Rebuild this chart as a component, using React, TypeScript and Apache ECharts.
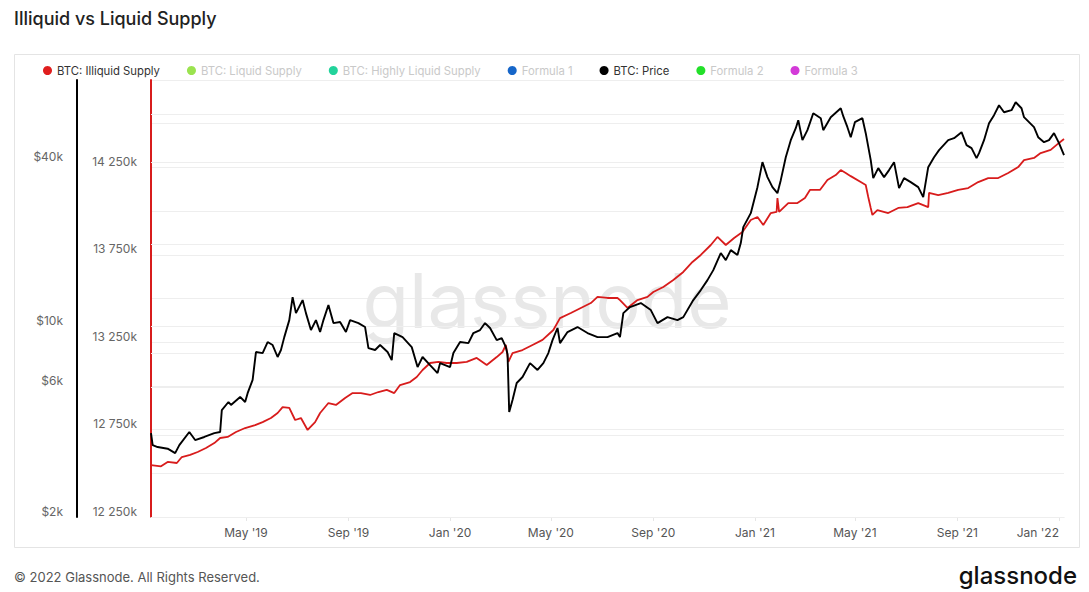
import React, { useEffect, useRef } from 'react';
import * as echarts from 'echarts';

const supplyDates = [
  '2019-01-07', '2019-01-19', '2019-01-27', '2019-02-07', '2019-02-13', '2019-02-23', '2019-03-04', '2019-03-14',
  '2019-03-24', '2019-03-31', '2019-04-09', '2019-04-19', '2019-04-30', '2019-05-12', '2019-05-21', '2019-05-31',
  '2019-06-08', '2019-06-14', '2019-06-22', '2019-06-29', '2019-07-06', '2019-07-14', '2019-07-23', '2019-07-29',
  '2019-08-08', '2019-08-17', '2019-08-28', '2019-09-06', '2019-09-16', '2019-09-27', '2019-10-07', '2019-10-17',
  '2019-10-26', '2019-11-02', '2019-11-14', '2019-11-22', '2019-11-29', '2019-12-08', '2019-12-18', '2019-12-28',
  '2020-01-09', '2020-01-21', '2020-02-02', '2020-02-14', '2020-02-26', '2020-03-04', '2020-03-08', '2020-03-11',
  '2020-03-16', '2020-03-28', '2020-04-09', '2020-04-21', '2020-05-04', '2020-05-12', '2020-05-25', '2020-06-06',
  '2020-06-18', '2020-06-26', '2020-07-08', '2020-07-20', '2020-07-23', '2020-08-01', '2020-08-13', '2020-08-25',
  '2020-09-01', '2020-09-13', '2020-09-25', '2020-10-07', '2020-10-18', '2020-10-28', '2020-11-09', '2020-11-17',
  '2020-11-27', '2020-12-07', '2020-12-17', '2020-12-27', '2021-01-04', '2021-01-11', '2021-01-20', '2021-01-27',
  '2021-01-28', '2021-01-30', '2021-02-10', '2021-02-21', '2021-03-02', '2021-03-08', '2021-03-20', '2021-03-29',
  '2021-04-08', '2021-04-14', '2021-04-20', '2021-04-26', '2021-05-08', '2021-05-14', '2021-05-17', '2021-05-20',
  '2021-05-22', '2021-05-28', '2021-06-10', '2021-06-22', '2021-07-03', '2021-07-16', '2021-07-28', '2021-07-29',
  '2021-08-09', '2021-08-21', '2021-09-02', '2021-09-14', '2021-09-26', '2021-10-08', '2021-10-20', '2021-11-01',
  '2021-11-13', '2021-11-20', '2021-12-02', '2021-12-10', '2021-12-22', '2022-01-01', '2022-01-07',
];
// BTC: Illiquid Supply, in thousands of BTC
const supplyValues = [
  12547, 12540, 12565, 12559, 12593, 12605, 12622, 12645,
  12673, 12702, 12708, 12736, 12759, 12776, 12793, 12816,
  12845, 12879, 12874, 12805, 12816, 12748, 12793, 12845,
  12902, 12891, 12931, 12959, 12959, 12948, 12965, 12977,
  12959, 13005, 13022, 13051, 13091, 13131, 13137, 13131,
  13131, 13137, 13160, 13120, 13165, 13194, 13234, 13137,
  13188, 13205, 13234, 13263, 13320, 13388, 13417, 13446,
  13474, 13509, 13503, 13503, 13491, 13446, 13491, 13509,
  13537, 13566, 13606, 13652, 13709, 13749, 13806, 13852,
  13806, 13846, 13880, 13949, 13966, 13920, 13989, 13995,
  14075, 13995, 14046, 14046, 14075, 14121, 14121, 14178,
  14206, 14235, 14218, 14200, 14166, 14149, 14081, 14018,
  13978, 14006, 13989, 14018, 14023, 14046, 14023, 14104,
  14092, 14104, 14121, 14132, 14166, 14189, 14189, 14218,
  14252, 14292, 14304, 14332, 14350, 14390, 14412,
];

const priceDates = [
  '2019-01-07', '2019-01-09', '2019-01-15', '2019-01-27', '2019-02-05', '2019-02-10', '2019-02-22', '2019-03-01',
  '2019-03-12', '2019-03-24', '2019-03-31', '2019-04-02', '2019-04-10', '2019-04-13', '2019-04-24', '2019-04-30',
  '2019-05-03', '2019-05-09', '2019-05-13', '2019-05-21', '2019-05-27', '2019-06-02', '2019-06-08', '2019-06-12',
  '2019-06-16', '2019-06-22', '2019-06-26', '2019-06-30', '2019-07-08', '2019-07-12', '2019-07-18', '2019-07-24',
  '2019-07-29', '2019-08-02', '2019-08-08', '2019-08-14', '2019-08-22', '2019-08-29', '2019-09-03', '2019-09-13',
  '2019-09-21', '2019-09-25', '2019-10-03', '2019-10-09', '2019-10-18', '2019-10-23', '2019-10-26', '2019-11-05',
  '2019-11-16', '2019-11-23', '2019-11-29', '2019-12-08', '2019-12-17', '2019-12-20', '2020-01-01', '2020-01-05',
  '2020-01-13', '2020-01-23', '2020-01-29', '2020-02-06', '2020-02-12', '2020-02-18', '2020-02-26', '2020-03-03',
  '2020-03-08', '2020-03-10', '2020-03-12', '2020-03-16', '2020-03-21', '2020-03-28', '2020-04-06', '2020-04-15',
  '2020-04-22', '2020-04-28', '2020-05-03', '2020-05-09', '2020-05-12', '2020-05-21', '2020-06-02', '2020-06-14',
  '2020-06-26', '2020-07-08', '2020-07-20', '2020-07-23', '2020-07-27', '2020-08-04', '2020-08-17', '2020-08-29',
  '2020-09-06', '2020-09-18', '2020-09-30', '2020-10-07', '2020-10-19', '2020-10-28', '2020-11-05', '2020-11-12',
  '2020-11-21', '2020-11-27', '2020-12-03', '2020-12-11', '2020-12-15', '2020-12-18', '2020-12-27', '2021-01-04',
  '2021-01-10', '2021-01-16', '2021-01-22', '2021-01-28', '2021-02-01', '2021-02-07', '2021-02-13', '2021-02-19',
  '2021-02-22', '2021-02-27', '2021-03-05', '2021-03-12', '2021-03-21', '2021-03-24', '2021-04-02', '2021-04-14',
  '2021-04-17', '2021-04-22', '2021-04-26', '2021-05-01', '2021-05-10', '2021-05-14', '2021-05-20', '2021-05-23',
  '2021-05-29', '2021-06-05', '2021-06-11', '2021-06-17', '2021-06-23', '2021-06-29', '2021-07-07', '2021-07-16',
  '2021-07-22', '2021-07-28', '2021-08-04', '2021-08-10', '2021-08-21', '2021-08-28', '2021-09-06', '2021-09-12',
  '2021-09-18', '2021-09-24', '2021-09-27', '2021-10-03', '2021-10-09', '2021-10-15', '2021-10-21', '2021-10-27',
  '2021-11-05', '2021-11-10', '2021-11-17', '2021-11-20', '2021-11-26', '2021-12-02', '2021-12-07', '2021-12-14',
  '2021-12-20', '2021-12-26', '2022-01-01', '2022-01-07',
];
// BTC: Price, USD
const priceValues = [
  4060, 3670, 3610, 3560, 3430, 3670, 4100, 3830,
  3930, 4060, 4100, 4930, 5280, 5150, 5510, 5280,
  5690, 6360, 8050, 7980, 8760, 8540, 7720, 8190,
  9130, 10540, 12800, 11180, 12480, 11180, 9690, 10540,
  9530, 10540, 11970, 10280, 10370, 9530, 10540, 10280,
  9940, 8320, 8190, 8540, 8050, 7520, 9450, 9130,
  8390, 7090, 7720, 7210, 6740, 7330, 7090, 7980,
  8760, 8680, 9450, 9690, 10280, 9860, 8900, 9060,
  8390, 7900, 4850, 5370, 6200, 6520, 7330, 6920,
  7330, 7980, 8900, 9860, 8680, 9530, 9940, 9450,
  9130, 9130, 9450, 9130, 11180, 11770, 12170, 11470,
  10280, 10810, 10540, 10810, 12480, 13580, 14770, 16070,
  18560, 17490, 19030, 18250, 20190, 23100, 26000, 32380,
  39980, 35240, 32380, 30780, 34350, 41700, 48140, 53270,
  56990, 48140, 52380, 60440, 57960, 52380, 58450, 63040,
  58940, 53720, 49370, 56040, 57960, 51070, 40660, 34940,
  38020, 35240, 37390, 39980, 32100, 34940, 33780, 32380,
  29760, 38330, 41700, 44260, 48140, 48960, 51500, 46150,
  45000, 41370, 43140, 48140, 55570, 59450, 64660, 60950,
  62000, 66320, 63040, 58450, 56040, 53720, 49370, 47330,
  48140, 51070, 46930, 42420,
];

const xStart = '2019-01-07';
const xEnd = '2022-01-07';
const xTickDates = [
  '2019-05-01', '2019-09-01', '2020-01-01', '2020-05-01', '2020-09-01',
  '2021-01-01', '2021-05-01', '2021-09-01', '2022-01-01',
];
const priceGridValues = [2000, 4000, 6000, 8000, 10000, 20000, 40000, 60000];
const priceLabelValues = [2000, 6000, 10000, 40000];

const legendNames = [
  'BTC: Illiquid Supply', 'BTC: Liquid Supply', 'BTC: Highly Liquid Supply', 'Formula 1',
  'BTC: Price', 'Formula 2', 'Formula 3',
];
const legendColors = ['#e01e1e', '#9be34f', '#22d39b', '#1666c9', '#000000', '#23e02a', '#d33ad8'];
const inactiveNames = ['BTC: Liquid Supply', 'BTC: Highly Liquid Supply', 'Formula 1', 'Formula 2', 'Formula 3'];

const MONTHS = ['Jan', 'Feb', 'Mar', 'Apr', 'May', 'Jun', 'Jul', 'Aug', 'Sep', 'Oct', 'Nov', 'Dec'];
const FONT = 'Inter, "Noto Sans", sans-serif';

function ts(s: string): number {
  const [y, m, d] = s.split('-').map(Number);
  return new Date(y, m - 1, d).getTime();
}

function fmtSupply(v: number): string {
  const th = Math.floor(v / 1000);
  const rest = String(Math.round(v % 1000)).padStart(3, '0');
  return th + ' ' + rest + 'k';
}

export default function App() {
  const ref = useRef<HTMLDivElement>(null);
  useEffect(() => {
    if (!ref.current) return;
    document.body.style.margin = '0';
    const chart = echarts.init(ref.current, null, { renderer: 'svg' });
    const supplyData = supplyDates.map((d, i) => [ts(d), supplyValues[i]]);
    const priceData = priceDates.map((d, i) => [ts(d), priceValues[i]]);
    const xTicks = xTickDates.map(ts);

    const series: any[] = legendNames.map((name, i) => {
      const base: any = {
        name,
        type: 'line',
        showSymbol: false,
        symbol: 'none',
        itemStyle: { color: legendColors[i] },
        lineStyle: { color: legendColors[i], width: 1.8 },
        yAxisIndex: 0,
        data: [],
        z: 2,
      };
      if (name === 'BTC: Illiquid Supply') {
        base.data = supplyData;
        base.lineStyle = { color: '#d81c1c', width: 1.8 };
      }
      if (name === 'BTC: Price') {
        base.data = priceData;
        base.yAxisIndex = 1;
        base.z = 3;
        base.lineStyle = { color: '#000', width: 1.9 };
        base.markLine = {
          silent: true,
          symbol: 'none',
          z: 1,
          lineStyle: { color: '#eeeeee', width: 1, type: 'solid' },
          label: { show: false },
          emphasis: { disabled: true },
          data: priceGridValues.map((v) => ({
            yAxis: v,
            label: priceLabelValues.includes(v)
              ? {
                  show: true,
                  position: 'start',
                  distance: [88, 0],
                  formatter: '$' + v / 1000 + 'k',
                  color: '#666',
                  fontSize: 12,
                  fontFamily: FONT,
                  verticalAlign: 'bottom',
                }
              : { show: false },
          })),
        };
      }
      return base;
    });

    chart.setOption({
      animation: false,
      backgroundColor: '#ffffff',
      textStyle: { fontFamily: FONT },
      title: {
        text: 'Illiquid vs Liquid Supply',
        left: 9,
        top: 4,
        textStyle: { fontSize: 18, fontWeight: 500, color: '#222', fontFamily: FONT },
      },
      legend: {
        left: 38,
        top: 60,
        icon: 'circle',
        itemWidth: 9,
        itemHeight: 9,
        itemGap: 27,
        selectedMode: false,
        textStyle: { fontSize: 11.3, color: '#333', fontFamily: FONT },
        data: legendNames.map((n) => ({
          name: n,
          textStyle: { color: inactiveNames.includes(n) ? '#c9c9c9' : '#333' },
        })),
      },
      grid: { left: 151, right: 25, top: 80, bottom: 75 },
      xAxis: {
        type: 'value',
        min: ts(xStart),
        max: ts(xEnd),
        axisLine: { show: true, lineStyle: { color: '#e6e6e6', width: 1 } },
        axisTick: { show: true, customValues: xTicks, length: 4, lineStyle: { color: '#e6e6e6' } },
        splitLine: { show: false },
        axisLabel: {
          customValues: xTicks,
          color: '#555',
          fontSize: 12,
          margin: 9,
          alignMaxLabel: 'right',
          formatter: (val: number) => {
            const d = new Date(val);
            return MONTHS[d.getMonth()] + " '" + String(d.getFullYear()).slice(2);
          },
        },
      },
      yAxis: [
        {
          type: 'value',
          position: 'left',
          min: 12250,
          max: 14750,
          interval: 250,
          axisLine: { show: true, lineStyle: { color: '#d81c1c', width: 2 } },
          axisTick: { show: false },
          splitLine: { show: true, lineStyle: { color: '#eeeeee', width: 1 } },
          axisLabel: {
            color: '#666',
            fontSize: 12,
            margin: 14,
            verticalAlign: 'bottom',
            formatter: (v: number) => ((v - 12250) % 500 === 0 && v < 14750 ? fmtSupply(v) : ''),
          },
        },
        {
          type: 'log',
          logBase: 10,
          position: 'left',
          offset: 74,
          min: 2000,
          max: 80000,
          axisLine: { show: true, lineStyle: { color: '#000', width: 2 } },
          axisTick: { show: false },
          splitLine: { show: false },
          axisLabel: { show: false },
        },
      ],
      graphic: [
        {
          type: 'rect',
          z: 0,
          silent: true,
          shape: { x: 14.5, y: 54.5, width: 1065, height: 493 },
          style: { fill: 'none', stroke: '#e4e4e4', lineWidth: 1 },
        },
        {
          type: 'text',
          z: 1,
          silent: true,
          x: 547,
          y: 300,
          style: {
            text: 'glassnode',
            fontSize: 76,
            fontFamily: FONT,
            fontWeight: 400,
            fill: '#e8e8e8',
            align: 'center',
            verticalAlign: 'middle',
          },
        },
        {
          type: 'text',
          silent: true,
          x: 14,
          y: 577,
          style: {
            text: '\u00a9 2022 Glassnode. All Rights Reserved.',
            fontSize: 13,
            fontFamily: FONT,
            fill: '#555',
            align: 'left',
            verticalAlign: 'middle',
          },
        },
        {
          type: 'text',
          silent: true,
          x: 1077,
          y: 575,
          style: {
            text: 'glassnode',
            fontSize: 24,
            fontFamily: FONT,
            fontWeight: 500,
            fill: '#111',
            align: 'right',
            verticalAlign: 'middle',
          },
        },
      ],
      tooltip: { show: false },
      series,
    });
    return () => chart.dispose();
  }, []);
  return <div ref={ref} style={{ width: 1089, height: 592, background: '#fff' }} />;
}
